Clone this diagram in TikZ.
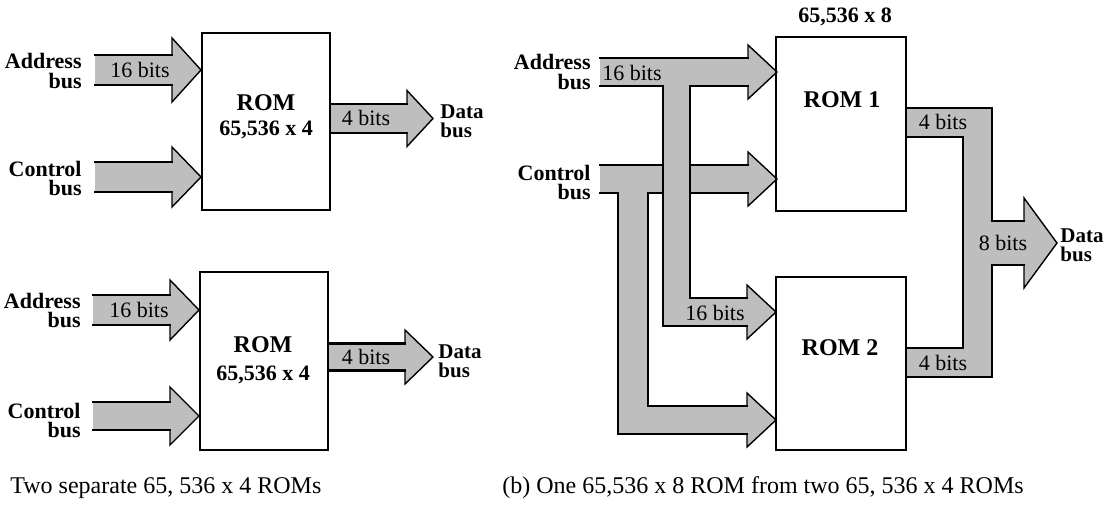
\documentclass[tikz,border=0pt]{standalone}
\usepackage{fontspec}
\setmainfont{Liberation Serif}
\definecolor{busgray}{RGB}{190,190,190}
\tikzset{
  busfill/.style={fill=busgray},
  shaftline/.style={line width=1.2pt, line join=miter, line cap=rect},
  headline/.style={line width=0.7pt, line join=miter},
  rombox/.style={draw, line width=1pt, inner sep=0pt},
  buslabel/.style={font=\fontsize{11}{9.5}\selectfont\bfseries, align=right, inner sep=0pt, anchor=east},
  datalabel/.style={font=\fontsize{10.5}{9.5}\selectfont\bfseries, align=left, inner sep=0pt, anchor=west},
  bitlabel/.style={font=\fontsize{11}{12}\selectfont, inner sep=0pt},
  romtext/.style={font=\fontsize{12}{13}\selectfont\bfseries, inner sep=0pt},
  romsize/.style={font=\fontsize{11}{12}\selectfont\bfseries, inner sep=0pt},
  captext/.style={font=\fontsize{12}{14}\selectfont, inner sep=0pt, anchor=west}
}
% #1 left x, #2 head start x, #3 tip x, #4 centre y, #5 shaft half width, #6 head half width
\newcommand{\busarrow}[6]{%
  \fill[busfill] (#1,#4-#5) -- (#2,#4-#5) -- (#2,#4-#6) -- (#3,#4) -- (#2,#4+#6) -- (#2,#4+#5) -- (#1,#4+#5) -- cycle;
  \draw[shaftline] (#1,#4-#5) -- (#2,#4-#5);
  \draw[shaftline] (#1,#4+#5) -- (#2,#4+#5);
  \draw[headline] (#2,#4-#5) -- (#2,#4-#6) -- (#3,#4) -- (#2,#4+#6) -- (#2,#4+#5);
}
\begin{document}
\begin{tikzpicture}[x=0.5pt,y=-0.5pt]
\useasboundingbox[fill=white] (0,0) rectangle (1104,504);

% ---------- left, top ROM ----------
\busarrow{95}{172}{201}{70}{15}{32}
\busarrow{95}{172}{201}{177}{15}{30}
\busarrow{330}{407}{433}{118.5}{14.5}{28}
\node[rombox, minimum width=64pt, minimum height=88.5pt] (romA) at (266,121.5) {};
\node[romtext] (romAt) at (266,103) {ROM};
\node[romsize] (romAs) at (266,130) {65,536 x 4};
\node[buslabel] (addrA) at (82,71) {Address\\bus};
\node[buslabel] (ctrlA) at (82,178) {Control\\bus};
\node[datalabel] (dataA) at (440,121) {Data\\bus};
\node[bitlabel] (bA1) at (140,70) {16 bits};
\node[bitlabel] (bA2) at (366,118) {4 bits};

% ---------- left, bottom ROM ----------
\busarrow{93}{170}{199}{310}{15}{30}
\busarrow{93}{170}{199}{416}{14}{29}
\busarrow{328}{405}{433}{357}{13.5}{27}
\node[rombox, minimum width=64pt, minimum height=89pt] (romB) at (264,361) {};
\node[romtext] (romBt) at (263,345) {ROM};
\node[romsize] (romBs) at (263,375) {65,536 x 4};
\node[buslabel] (addrB) at (81,310) {Address\\bus};
\node[buslabel] (ctrlB) at (81,420) {Control\\bus};
\node[datalabel] (dataB) at (438,361) {Data\\bus};
\node[bitlabel] (bB1) at (139,310) {16 bits};
\node[bitlabel] (bB2) at (366,357) {4 bits};

\node[captext] (capA) at (10,488) {Two separate 65, 536 x 4 ROMs};

% ---------- right: 65,536 x 8 ----------
% control bus composite
\fill[busfill] (600,165) -- (748,165) -- (748,152) -- (777,179) -- (748,206) -- (748,193) -- (648,193) -- (648,406) -- (747,406) -- (747,393) -- (776,420) -- (747,447) -- (747,434) -- (618,434) -- (618,193) -- (600,193) -- cycle;
\draw[shaftline] (600,165) -- (748,165);
\draw[shaftline] (600,193) -- (618,193) -- (618,434) -- (747,434);
\draw[shaftline] (748,193) -- (648,193) -- (648,406) -- (747,406);
\draw[headline] (748,165) -- (748,152) -- (777,179) -- (748,206) -- (748,193);
\draw[headline] (747,406) -- (747,393) -- (776,420) -- (747,447) -- (747,434);
% address bus composite
\fill[busfill] (600,58) -- (748,58) -- (748,45) -- (777,72) -- (748,99) -- (748,86) -- (690,86) -- (690,298) -- (747,298) -- (747,285) -- (776,312) -- (747,339) -- (747,326) -- (663,326) -- (663,86) -- (600,86) -- cycle;
\draw[shaftline] (600,58) -- (748,58);
\draw[shaftline] (600,86) -- (663,86) -- (663,326) -- (747,326);
\draw[shaftline] (748,86) -- (690,86) -- (690,298) -- (747,298);
\draw[headline] (748,58) -- (748,45) -- (777,72) -- (748,99) -- (748,86);
\draw[headline] (747,298) -- (747,285) -- (776,312) -- (747,339) -- (747,326);
% data bus composite
\fill[busfill] (906,108) -- (992,108) -- (992,221) -- (1024,221) -- (1024,198) -- (1057,243) -- (1024,288) -- (1024,265) -- (992,265) -- (992,377) -- (906,377) -- (906,348) -- (963,348) -- (963,137) -- (906,137) -- cycle;
\draw[shaftline] (906,108) -- (992,108) -- (992,221) -- (1024,221);
\draw[shaftline] (1024,265) -- (992,265) -- (992,377) -- (906,377);
\draw[shaftline] (906,348) -- (963,348) -- (963,137) -- (906,137);
\draw[headline] (1024,221) -- (1024,198) -- (1057,243) -- (1024,288) -- (1024,265);

\node[rombox, minimum width=65pt, minimum height=87pt] (rom1) at (841,124) {};
\node[rombox, minimum width=65pt, minimum height=86.5pt] (rom2) at (841,363.5) {};
\node[romtext] (rom1t) at (842,100) {ROM 1};
\node[romtext] (rom2t) at (840,348) {ROM 2};
\node[romsize] (rom8) at (845,17) {65,536 x 8};
\node[buslabel] (addrC) at (591,72) {Address\\bus};
\node[buslabel] (ctrlC) at (591,182) {Control\\bus};
\node[datalabel] (dataC) at (1060,245) {Data\\bus};
\node[bitlabel] (bC1) at (632,73) {16 bits};
\node[bitlabel] (bC2) at (715,313) {16 bits};
\node[bitlabel] (bC3) at (943,122) {4 bits};
\node[bitlabel] (bC4) at (943,363) {4 bits};
\node[bitlabel] (bC5) at (1003,243) {8 bits};

\node[captext] (capB) at (502,488) {(b) One 65,536 x 8 ROM from two 65, 536 x 4 ROMs};
\end{tikzpicture}
\end{document}
